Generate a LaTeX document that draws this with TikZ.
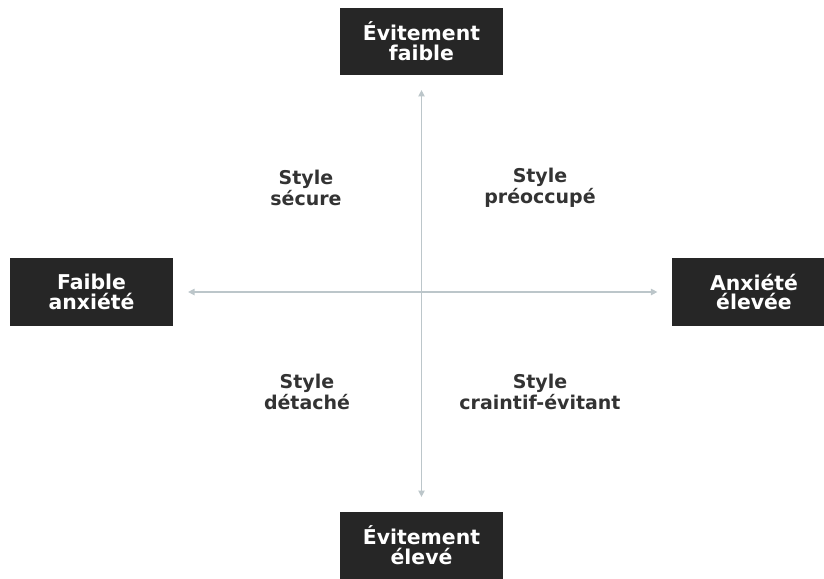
\documentclass[tikz,border=0pt]{standalone}
\usepackage{fontspec}
\setmainfont{DejaVu Sans}
\usetikzlibrary{arrows.meta}
\definecolor{boxdark}{HTML}{262626}
\definecolor{axisgray}{HTML}{BCC6CA}
\definecolor{labeldark}{HTML}{333333}
\begin{document}
\begin{tikzpicture}[x=0.025cm, y=-0.025cm,
		pole/.style={fill=boxdark, text=white, align=center, inner sep=0pt,
			font=\bfseries\fontsize{14.5}{14}\selectfont,
			minimum width=4.075cm, minimum height=1.675cm},
		quadrant/.style={text=labeldark, align=center, inner sep=0pt,
			font=\bfseries\fontsize{13.5}{12}\selectfont},
		axis/.style={draw=axisgray, line width=0.9pt,
			{Triangle[length=1.6mm,width=1.6mm]}-{Triangle[length=1.6mm,width=1.6mm]},
			shorten <=0.37cm, shorten >=0.37cm}]
		\clip (0,0) rectangle (824,579);
		% ---- poles ----
		\node[pole] (evfaible) at (421.5,41.5) {Évitement\\faible};
		\node[pole] (evelev) at (421.5,545.5) {Évitement\\élevé};
		\node[pole] (anxfaible) at (91.5,292) {Faible\\anxiété};
		\node[pole] (anxelev) at (754,292) {Anxiété\\élevée};
		% ---- axes ----
		\draw[axis] (evfaible) -- (evelev);
		\draw[axis] (anxfaible) -- (anxelev);
		% ---- quadrants ----
		\node[quadrant] (secure) at (306,188) {Style\\sécure};
		\node[quadrant] (preocc) at (540,188) {Style\\préoccupé};
		\node[quadrant] (detache) at (307,392) {Style\\détaché};
		\node[quadrant] (craintif) at (540,392) {Style\\craintif-évitant};
	\end{tikzpicture}
\end{document}
